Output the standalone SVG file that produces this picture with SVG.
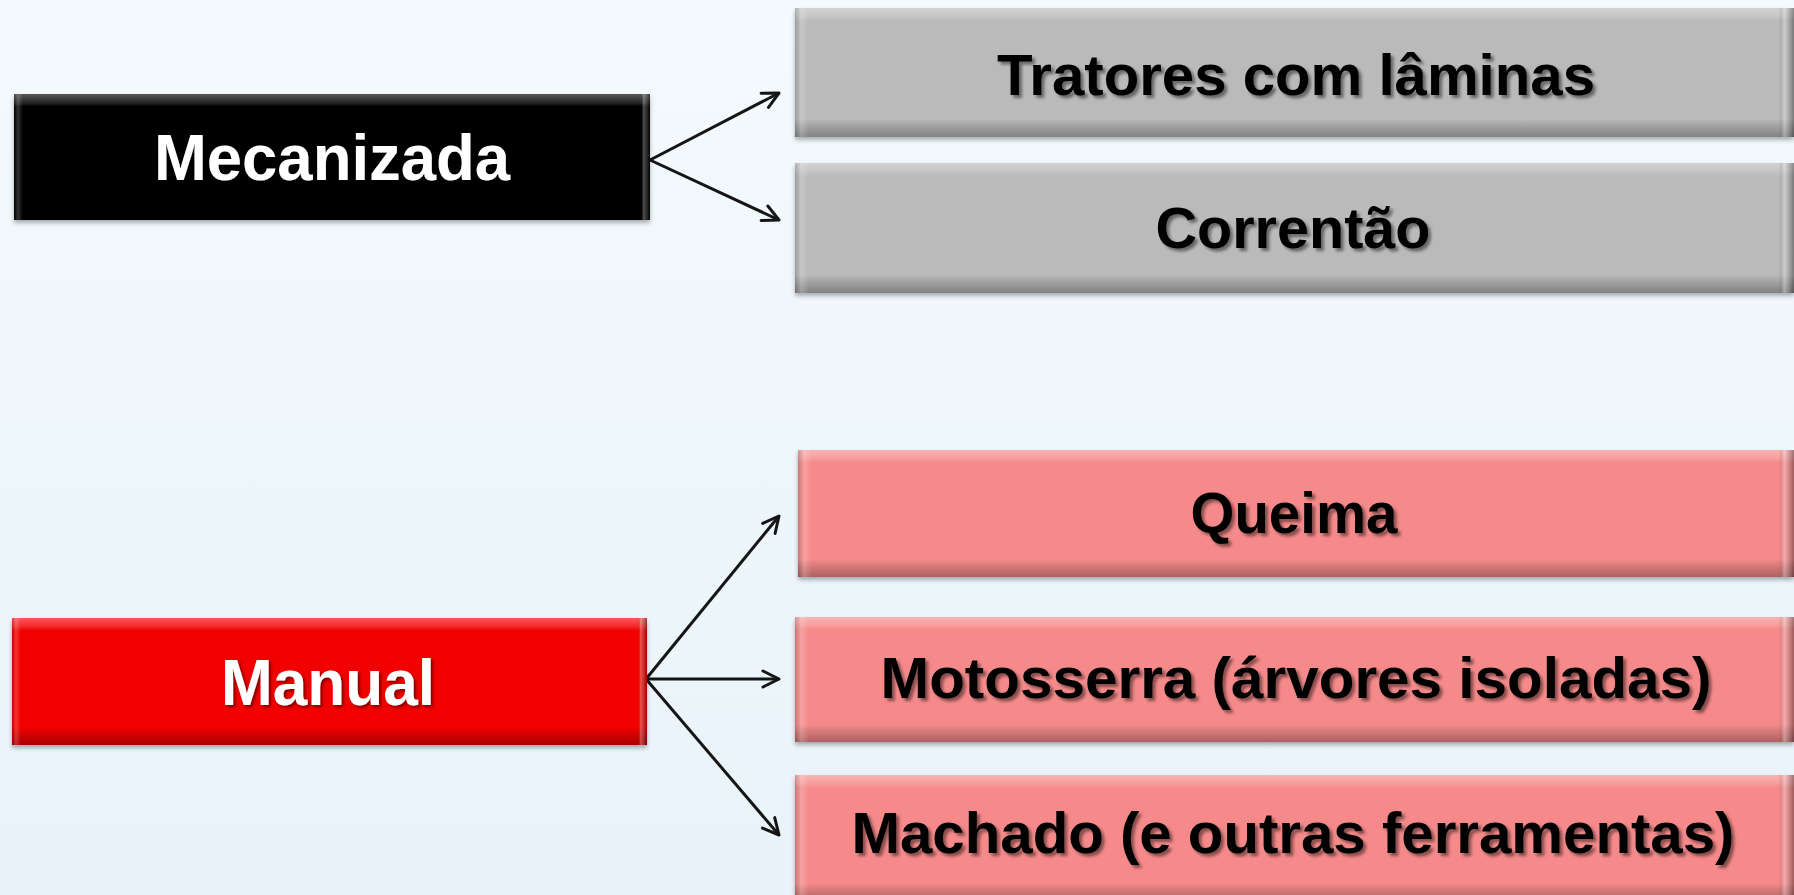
<svg xmlns="http://www.w3.org/2000/svg" width="1794" height="895" viewBox="0 0 1794 895">
  <style>
    .lbl { font-family: "Liberation Sans", Arial, sans-serif; font-weight: bold; text-anchor: middle; }
    .dark { fill: #000; font-size: 58px; filter: url(#tshadow); }
    .light { fill: #fff; font-size: 64px; filter: url(#tshadowW); }
    .conn { stroke: #151515; stroke-width: 3; fill: none; marker-end: url(#arrow); }
    .box { filter: url(#bshadow); }
    .grey { fill: #bababa; }
    .pink { fill: #f68a8a; }
    .red { fill: #f20000; }
    .black { fill: #000; }
  </style>
  <defs>
    <linearGradient id="bg" x1="0" y1="0" x2="0" y2="1">
      <stop offset="0" stop-color="#f4fafd"/>
      <stop offset="1" stop-color="#e8f3f9"/>
    </linearGradient>
    <linearGradient id="bevV" x1="0" y1="0" x2="0" y2="1">
      <stop offset="0" stop-color="#fff" stop-opacity="0.35"/>
      <stop offset="0.07" stop-color="#fff" stop-opacity="0.15"/>
      <stop offset="0.1" stop-color="#fff" stop-opacity="0"/>
      <stop offset="0.86" stop-color="#000" stop-opacity="0"/>
      <stop offset="0.9" stop-color="#000" stop-opacity="0.1"/>
      <stop offset="1" stop-color="#000" stop-opacity="0.3"/>
    </linearGradient>
    <linearGradient id="bevH" x1="0" y1="0" x2="1" y2="0">
      <stop offset="0" stop-color="#000" stop-opacity="0.15"/>
      <stop offset="0.006" stop-color="#fff" stop-opacity="0.2"/>
      <stop offset="0.014" stop-color="#fff" stop-opacity="0"/>
      <stop offset="0.985" stop-color="#000" stop-opacity="0"/>
      <stop offset="0.99" stop-color="#fff" stop-opacity="0.3"/>
      <stop offset="1" stop-color="#000" stop-opacity="0.35"/>
    </linearGradient>
    <filter id="tshadow" x="-5%" y="-20%" width="110%" height="150%">
      <feDropShadow dx="3" dy="3" stdDeviation="1.5" flood-color="#000" flood-opacity="0.45"/>
    </filter>
    <filter id="tshadowW" x="-5%" y="-20%" width="110%" height="150%">
      <feDropShadow dx="2" dy="2" stdDeviation="1.5" flood-color="#000" flood-opacity="0.5"/>
    </filter>
    <filter id="bshadow" x="-2%" y="-10%" width="104%" height="125%">
      <feDropShadow dx="0" dy="3" stdDeviation="2" flood-color="#000" flood-opacity="0.3"/>
    </filter>
    <marker id="arrow" markerUnits="userSpaceOnUse" markerWidth="26" markerHeight="26" viewBox="-20 -13 26 26" refX="0" refY="0" orient="auto">
      <path d="M-16,-8 L0,0 L-16,8" fill="none" stroke="#151515" stroke-width="3" stroke-linecap="round" stroke-linejoin="round"/>
    </marker>
  </defs>

  <rect x="0" y="0" width="1794" height="895" fill="url(#bg)"/>

  <g id="connectors">
    <line class="conn" x1="650" y1="160" x2="779" y2="93"/>
    <line class="conn" x1="650" y1="160" x2="779" y2="220"/>
    <line class="conn" x1="646" y1="679" x2="779" y2="516"/>
    <line class="conn" x1="646" y1="679" x2="779" y2="679"/>
    <line class="conn" x1="646" y1="679" x2="779" y2="835"/>
  </g>

  <g id="mecanizada">
    <rect class="box black" x="14" y="94" width="636" height="126"/>
    <rect x="14" y="94" width="636" height="126" fill="url(#bevV)"/>
    <rect x="14" y="94" width="636" height="126" fill="url(#bevH)"/>
    <text class="lbl light" x="332" y="180" textLength="356" lengthAdjust="spacingAndGlyphs">Mecanizada</text>
  </g>

  <g id="manual">
    <rect class="box red" x="12" y="618" width="635" height="127"/>
    <rect x="12" y="618" width="635" height="127" fill="url(#bevV)"/>
    <rect x="12" y="618" width="635" height="127" fill="url(#bevH)"/>
    <text class="lbl light" x="328" y="705" textLength="214" lengthAdjust="spacingAndGlyphs">Manual</text>
  </g>

  <g id="tratores">
    <rect class="box grey" x="795" y="8" width="999" height="129"/>
    <rect x="795" y="8" width="999" height="129" fill="url(#bevV)"/>
    <rect x="795" y="8" width="999" height="129" fill="url(#bevH)"/>
    <text class="lbl dark" x="1296" y="95" textLength="598" lengthAdjust="spacingAndGlyphs">Tratores com lâminas</text>
  </g>

  <g id="correntao">
    <rect class="box grey" x="795" y="163" width="999" height="130"/>
    <rect x="795" y="163" width="999" height="130" fill="url(#bevV)"/>
    <rect x="795" y="163" width="999" height="130" fill="url(#bevH)"/>
    <text class="lbl dark" x="1293" y="248" textLength="275" lengthAdjust="spacingAndGlyphs">Correntão</text>
  </g>

  <g id="queima">
    <rect class="box pink" x="798" y="450" width="996" height="127"/>
    <rect x="798" y="450" width="996" height="127" fill="url(#bevV)"/>
    <rect x="798" y="450" width="996" height="127" fill="url(#bevH)"/>
    <text class="lbl dark" x="1294" y="533" textLength="207" lengthAdjust="spacingAndGlyphs">Queima</text>
  </g>

  <g id="motosserra">
    <rect class="box pink" x="795" y="617" width="999" height="125"/>
    <rect x="795" y="617" width="999" height="125" fill="url(#bevV)"/>
    <rect x="795" y="617" width="999" height="125" fill="url(#bevH)"/>
    <text class="lbl dark" x="1296" y="698" textLength="831" lengthAdjust="spacingAndGlyphs">Motosserra (árvores isoladas)</text>
  </g>

  <g id="machado">
    <rect class="box pink" x="795" y="775" width="999" height="126"/>
    <rect x="795" y="775" width="999" height="126" fill="url(#bevV)"/>
    <rect x="795" y="775" width="999" height="126" fill="url(#bevH)"/>
    <text class="lbl dark" x="1293" y="853" textLength="883" lengthAdjust="spacingAndGlyphs">Machado (e outras ferramentas)</text>
  </g>
</svg>
